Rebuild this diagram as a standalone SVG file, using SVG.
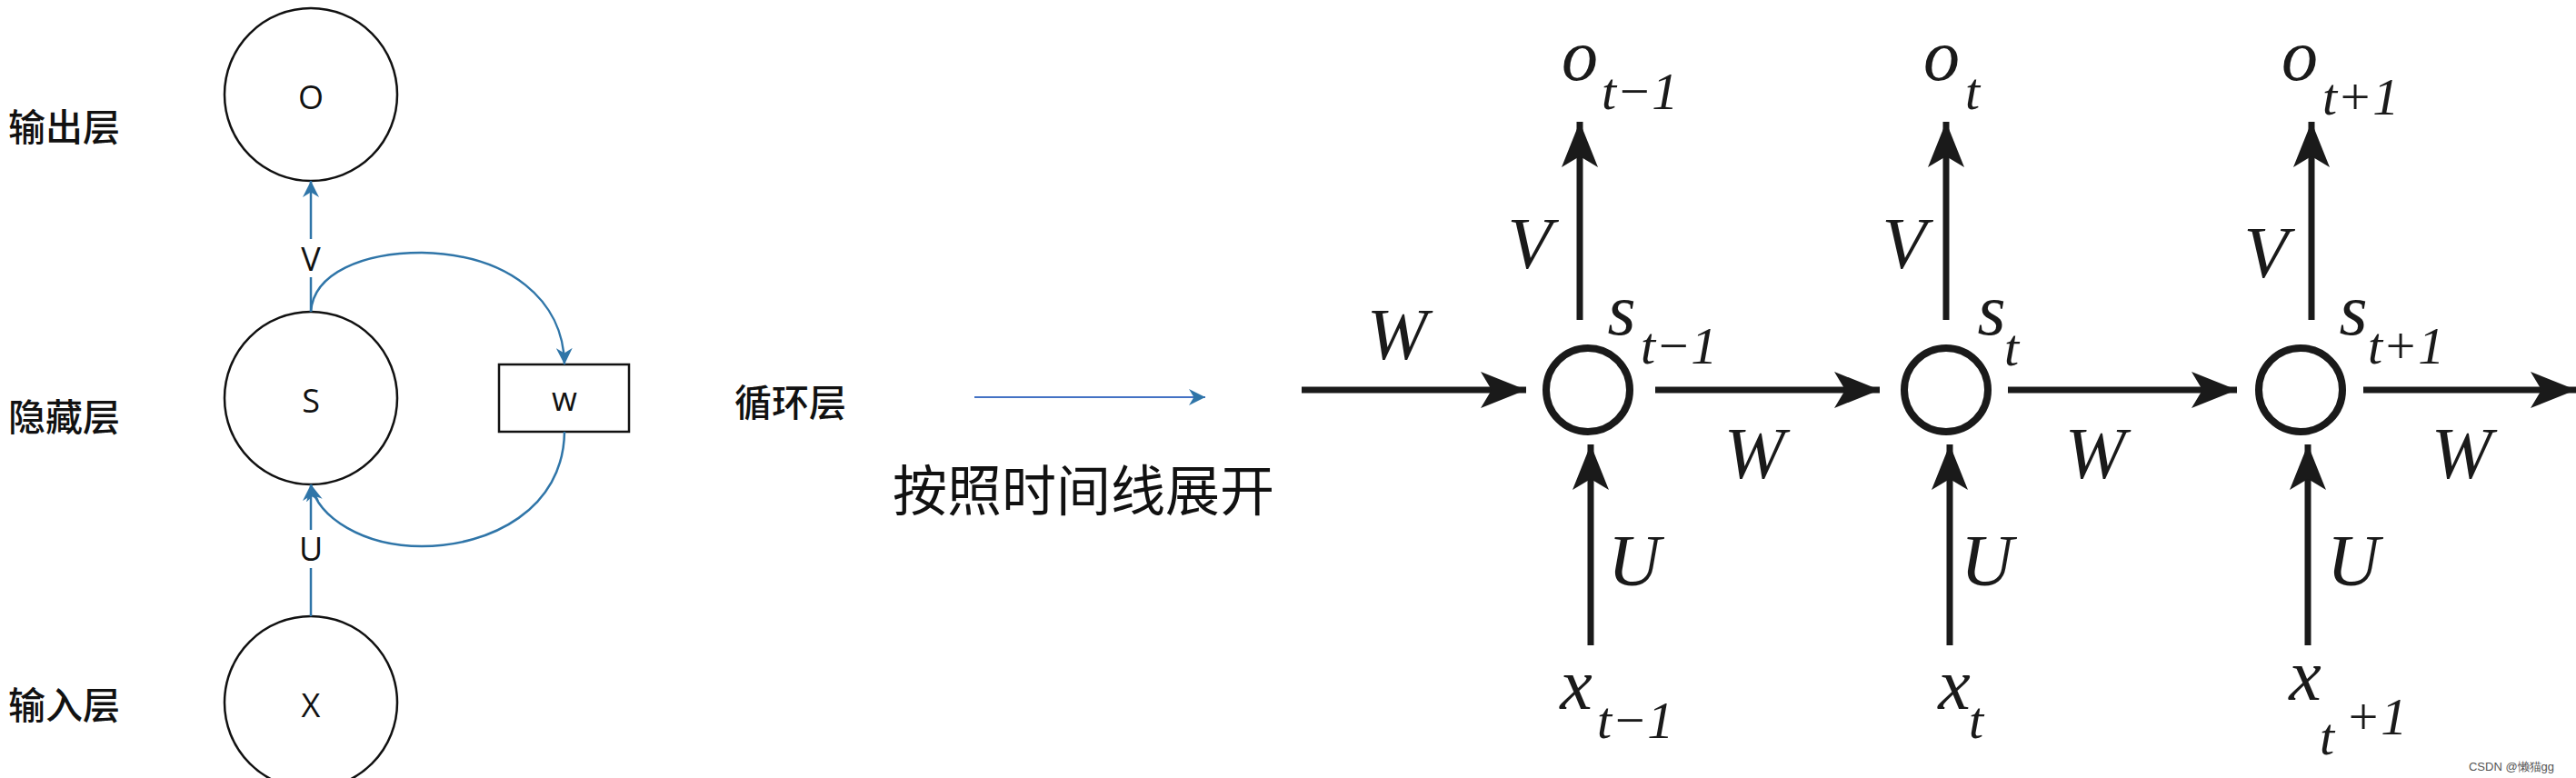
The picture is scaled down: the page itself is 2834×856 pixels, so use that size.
<svg xmlns="http://www.w3.org/2000/svg" width="2834" height="856" viewBox="0 0 2834 856">
<style>
.cn{font-family:"Noto Sans CJK SC",sans-serif;font-size:41px;font-weight:500;fill:#111;dominant-baseline:central}
.lt{font-family:"Open Sans","Noto Sans",sans-serif;font-size:36px;fill:#111;text-anchor:middle;dominant-baseline:central}
.nd{fill:none;stroke:#111;stroke-width:2.5}
.bl{fill:none;stroke:#2f75a8;stroke-width:2.5}
.bk{stroke:#1a1a1a;stroke-width:7;fill:none}
.it{font-size:80px;text-anchor:middle}
.sb{font-size:58px}
</style>
<defs>
<marker id="bb" viewBox="0 0 10 10" refX="10" refY="5" markerWidth="18" markerHeight="18" markerUnits="userSpaceOnUse" orient="auto"><path d="M0,0L10,5L0,10L3,5z" fill="#2f75a8"/></marker>
<marker id="ka" viewBox="0 0 50 40" refX="50" refY="20" markerWidth="50" markerHeight="40" markerUnits="userSpaceOnUse" orient="auto"><path d="M0,0L50,20L0,40L12,20z" fill="#1a1a1a"/></marker>
</defs>
<rect width="2834" height="856" fill="#fff"/>
<text class="cn" x="9" y="137">输出层</text>
<text class="cn" x="9" y="456">隐藏层</text>
<text class="cn" x="9" y="773">输入层</text>
<g id="O"><circle class="nd" cx="342" cy="104" r="95"/><text class="lt" x="342" y="106">O</text></g>
<g id="S"><circle class="nd" cx="342" cy="438" r="95"/><text class="lt" x="342" y="440">S</text></g>
<g id="X"><circle class="nd" cx="342" cy="773" r="95"/><text class="lt" x="342" y="775">X</text></g>
<g id="Wbox"><rect class="nd" x="549" y="401" width="143" height="74"/><text class="lt" x="621" y="438">w</text></g>
<text class="cn" x="808" y="440">循环层</text>
<g id="left-connectors">
<path class="bl" d="M342,343V305M342,263V199" marker-end="url(#bb)"/>
<path class="bl" d="M342,678V625M342,583V533" marker-end="url(#bb)"/>
<path class="bl" d="M342,343C345,300 400,278 464,278C560,280 620,330 621,401" marker-end="url(#bb)"/>
<path class="bl" d="M621,475C620,560 540,601 464,601C400,601 350,570 342,533" marker-end="url(#bb)"/>
<path d="M1072,437H1326" stroke="#4472c4" stroke-width="2" marker-end="url(#bb)"/>
</g>
<text class="lt" x="342" y="284">V</text>
<text class="lt" x="342" y="603">U</text>
<text x="982" y="535" font-family="Noto Sans CJK SC,sans-serif" font-size="60" fill="#111" dominant-baseline="central">按照时间线展开</text>

<g id="s1"><circle cx="1747" cy="429" r="46" fill="none" stroke="#1a1a1a" stroke-width="8"/></g>
<g id="s2"><circle cx="2141" cy="429" r="46" fill="none" stroke="#1a1a1a" stroke-width="8"/></g>
<g id="s3"><circle cx="2531" cy="429" r="46" fill="none" stroke="#1a1a1a" stroke-width="8"/></g>
<g id="right-connectors">
<path class="bk" d="M1432,429H1679" marker-end="url(#ka)"/>
<path class="bk" d="M1821,429H2068" marker-end="url(#ka)"/>
<path class="bk" d="M2209,429H2461" marker-end="url(#ka)"/>
<path class="bk" d="M2600,429H2834" marker-end="url(#ka)"/>
<path class="bk" d="M1738,352V134" marker-end="url(#ka)"/>
<path class="bk" d="M2141,352V134" marker-end="url(#ka)"/>
<path class="bk" d="M2543,352V134" marker-end="url(#ka)"/>
<path class="bk" d="M1750,710V489" marker-end="url(#ka)"/>
<path class="bk" d="M2145,710V489" marker-end="url(#ka)"/>
<path class="bk" d="M2539,710V489" marker-end="url(#ka)"/>
</g>
<g id="labels" font-family="Liberation Serif, Times New Roman, serif" font-style="italic" fill="#1a1a1a">
<text class="it" x="1738" y="88">o</text><text class="sb" x="1762" y="120">t−1</text>
<text class="it" x="2136" y="88">o</text><text class="sb" x="2162" y="120">t</text>
<text class="it" x="2530" y="88">o</text><text class="sb" x="2555" y="126">t+1</text>
<text class="it" x="1683" y="295">V</text>
<text class="it" x="2095" y="295">V</text>
<text class="it" x="2493" y="305">V</text>
<text class="it" x="1784" y="368">s</text><text class="sb" x="1805" y="400">t−1</text>
<text class="it" x="2191" y="368">s</text><text class="sb" x="2205" y="402">t</text>
<text class="it" x="2589" y="368">s</text><text class="sb" x="2605" y="400">t+1</text>
<text class="it" x="1537" y="395">W</text>
<text class="it" x="1930" y="526">W</text>
<text class="it" x="2305" y="526">W</text>
<text class="it" x="2708" y="526">W</text>
<text class="it" x="1798" y="644">U</text>
<text class="it" x="2186" y="644">U</text>
<text class="it" x="2589" y="644">U</text>
<text class="it" x="1734" y="780">x</text><text class="sb" x="1757" y="812">t−1</text>
<text class="it" x="2150" y="780">x</text><text class="sb" x="2166" y="812">t</text>
<text class="it" x="2536" y="770">x</text><text class="sb" x="2552" y="830" font-size="72">t</text><text class="sb" x="2580" y="808">+1</text>
</g>
<text x="2763" y="848" font-family="Liberation Sans,sans-serif" font-size="13" fill="#555" text-anchor="middle">CSDN @懒猫gg</text>
</svg>
